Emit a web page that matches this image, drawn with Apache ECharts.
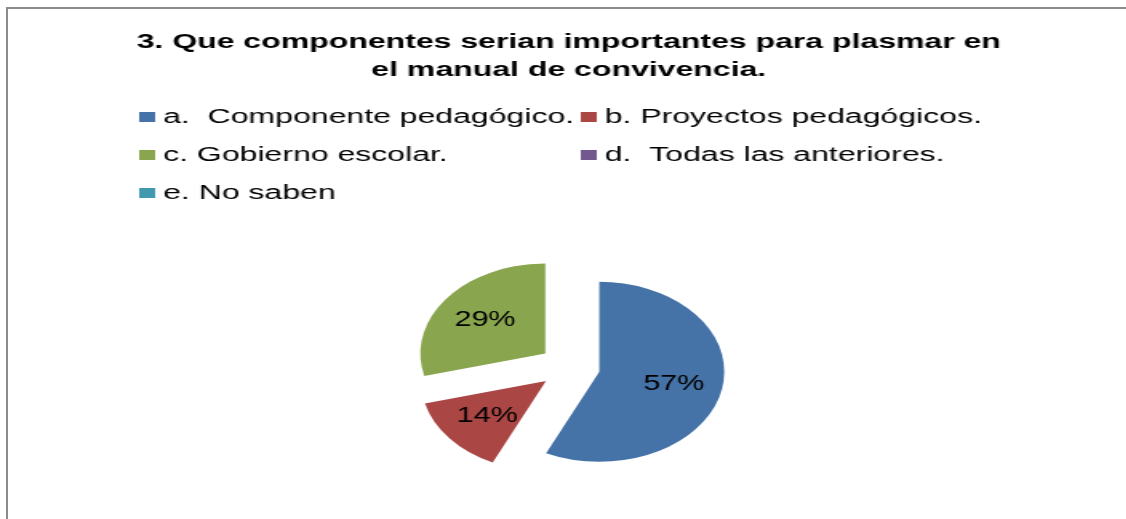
<!DOCTYPE html>
<html>
<head>
<meta charset="utf-8">
<script src="https://cdn.jsdelivr.net/npm/echarts@6/dist/echarts.min.js"></script>
<style>
html, body { margin: 0; padding: 0; background: #fff; width: 1126px; height: 519px; overflow: hidden; }
#frame { position: absolute; left: 6px; top: 7px; width: 1300px; height: 700px; border-top: 2px solid #8c8c8c; border-left: 2px solid #8c8c8c; }
/* the original picture is stretched sideways: text 1.6x, pie 1.39x */
#pie { position: absolute; left: 0; top: 0; width: 811px; height: 519px; transform: scaleX(1.389); transform-origin: 0 0; }
#texts { position: absolute; left: 0; top: 0; width: 711px; height: 519px; transform: scaleX(1.6); transform-origin: 0 0; }
</style>
</head>
<body>
<div id="frame"></div>
<div id="pie"></div>
<div id="texts"></div>
<script>
var categories = ['a.  Componente pedagógico.', 'b. Proyectos pedagógicos.', 'c. Gobierno escolar.', 'd.  Todas las anteriores.', 'e. No saben'];
var percents = [57, 14, 29, 0, 0];
var palette = ['#4572A7', '#AA4643', '#89A54E', '#71588F', '#4198AF'];

var font = 'Liberation Sans, Arial, sans-serif';

function pieData(selected) {
    var out = [];
    for (var i = 0; i < categories.length; i++) {
        out.push({ name: categories[i], value: percents[i], selected: selected && percents[i] > 0 });
    }
    return out;
}

// pie layer
var pie = echarts.init(document.getElementById('pie'));
pie.setOption({
    animation: false,
    color: palette,
    series: [
        {
            name: 'sectores',
            type: 'pie',
            center: [410, 367],
            radius: [0, 90],
            startAngle: 90,
            clockwise: true,
            selectedMode: 'multiple',
            selectedOffset: 22,
            silent: true,
            label: { show: false },
            labelLine: { show: false },
            data: pieData(true)
        },
        {
            // invisible ring only used to place the percentage labels a bit further out
            name: 'etiquetas',
            type: 'pie',
            center: [410, 367],
            radius: [0, 104],
            startAngle: 90,
            clockwise: true,
            selectedMode: 'multiple',
            selectedOffset: 22,
            silent: true,
            avoidLabelOverlap: false,
            itemStyle: { color: 'rgba(0,0,0,0)' },
            label: {
                show: true,
                position: 'inside',
                fontFamily: font,
                fontSize: 22,
                color: '#000',
                textBorderWidth: 0,
                formatter: function (p) {
                    return p.value ? p.value + '%' : '';
                }
            },
            labelLine: { show: false },
            data: pieData(true)
        }
    ]
});

// title + legend layer
var texts = echarts.init(document.getElementById('texts'));
var legendBase = {
    orient: 'vertical',
    top: 107,
    padding: 0,
    icon: 'rect',
    itemWidth: 10,
    itemHeight: 10,
    itemGap: 18,
    selectedMode: false,
    textStyle: { fontFamily: font, fontSize: 20, lineHeight: 20, color: '#000' }
};
texts.setOption({
    animation: false,
    color: palette,
    title: {
        text: '3. Que componentes serian importantes para plasmar en\nel manual de convivencia.',
        left: 'center',
        top: 28,
        padding: 0,
        textStyle: { fontFamily: font, fontSize: 20, fontWeight: 'bold', lineHeight: 28, color: '#000' }
    },
    legend: [
        Object.assign({}, legendBase, { left: 87, data: [categories[0], categories[2], categories[4]] }),
        Object.assign({}, legendBase, { left: 363, data: [categories[1], categories[3]] })
    ],
    series: [{
        type: 'pie',
        radius: [0, 0],
        silent: true,
        label: { show: false },
        labelLine: { show: false },
        data: pieData(false)
    }]
});
</script>
</body>
</html>
